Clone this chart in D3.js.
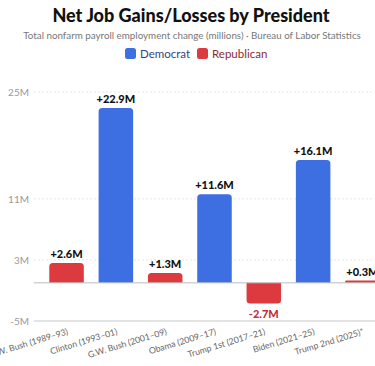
<!DOCTYPE html>
<html><head><meta charset="utf-8">
<script src="https://cdn.jsdelivr.net/npm/d3@7"></script>
<style>
html,body{margin:0;padding:0;background:#fff;overflow:hidden}
svg{display:block;font-family:Lato,"Open Sans",sans-serif}
</style></head><body>
<svg id="c" width="375" height="366"></svg>
<script>
const presidents = ["G.W. Bush (1989–93)","Clinton (1993–01)","G.W. Bush (2001–09)","Obama (2009–17)","Trump 1st (2017–21)","Biden (2021–25)","Trump 2nd (2025)*"];
const parties = ["Republican","Democrat","Republican","Democrat","Republican","Democrat","Republican"];
const jobChange = [2.6, 22.9, 1.3, 11.6, -2.7, 16.1, 0.3];
const yTicks = [-5, 3, 11, 25];
const legendItems = ["Democrat","Republican"];

const colors = {Democrat:"#3d6fe2", Republican:"#dc3a3e"};
const legendText = {Democrat:"#34467e", Republican:"#8c2b2e"};

const svg = d3.select("#c");
const x = d3.scaleBand().domain(presidents).range([34.5, 394.5]).padding(0.3);
const y = d3.scaleLinear().domain([-5, 25]).range([321, 92]);

// title
svg.append("text").attr("x",191).attr("y",22).attr("text-anchor","middle")
  .attr("font-size",18).attr("font-weight",900).attr("fill","#111")
  .text("Net Job Gains/Losses by President");
svg.append("text").attr("x",192).attr("y",39).attr("text-anchor","middle")
  .attr("font-size",9.8).attr("fill","#777")
  .text("Total nonfarm payroll employment change (millions) · Bureau of Labor Statistics");

// legend
const lg = svg.append("g");
const lx = [125, 197];
legendItems.forEach((k,i)=>{
  const g = lg.append("g").attr("transform",`translate(${lx[i]},48)`);
  g.append("rect").attr("width",11).attr("height",11).attr("rx",2.5).attr("fill",colors[k]);
  g.append("text").attr("x",15).attr("y",9.5).attr("font-size",11.5).attr("fill",legendText[k]).text(k);
});

// grid
const yAxis = d3.axisLeft(y).tickValues(yTicks).tickFormat(d=>d+"M").tickSize(0).tickPadding(0);
const ga = svg.append("g").attr("transform","translate(29,0)").call(yAxis);
ga.select(".domain").remove();
ga.selectAll("text").attr("font-size",10).attr("fill","#999").attr("font-family","Lato, sans-serif");
svg.append("g").selectAll("line").data(yTicks).join("line")
  .attr("x1",34).attr("x2",375).attr("y1",d=>y(d)).attr("y2",d=>y(d))
  .attr("stroke",d=>d===-5?"#c8c8c8":"#e6e6e6")
  .attr("stroke-dasharray",d=>d===-5?null:"2,2");

// bars
function barPath(d,i){
  const x0 = x(presidents[i]), w = x.bandwidth();
  const y0 = y(0), y1 = y(d);
  const h = Math.abs(y1-y0);
  const r = Math.min(3.5, h/2, w/2);
  if (d >= 0) {
    return `M${x0},${y0}V${y1+r}Q${x0},${y1} ${x0+r},${y1}H${x0+w-r}Q${x0+w},${y1} ${x0+w},${y1+r}V${y0}Z`;
  } else {
    return `M${x0},${y0}V${y1-r}Q${x0},${y1} ${x0+r},${y1}H${x0+w-r}Q${x0+w},${y1} ${x0+w},${y1-r}V${y0}Z`;
  }
}
svg.append("g").selectAll("path").data(jobChange).join("path")
  .attr("d",barPath).attr("fill",(d,i)=>colors[parties[i]]);

// zero line
svg.append("line").attr("x1",34).attr("x2",375).attr("y1",y(0)).attr("y2",y(0))
  .attr("stroke","#bdbdbd").attr("stroke-width",1);

// value labels
svg.append("g").selectAll("text").data(jobChange).join("text")
  .attr("x",(d,i)=>x(presidents[i])+x.bandwidth()/2)
  .attr("y",d=> d>=0 ? y(d)-5 : y(d)+15)
  .attr("text-anchor","middle").attr("font-size",11).attr("font-weight",900)
  .attr("fill",d=>d>=0?"#111":"#c2303a")
  .text(d=>(d>=0?"+":"")+d.toFixed(1)+"M");

// x labels
svg.append("g").selectAll("text").data(presidents).join("text")
  .attr("transform",d=>`translate(${x(d)+x.bandwidth()/2+2},${334}) rotate(-17)`)
  .attr("text-anchor","end").attr("font-size",8.7).attr("fill","#666")
  .text(d=>d);
</script></body></html>
